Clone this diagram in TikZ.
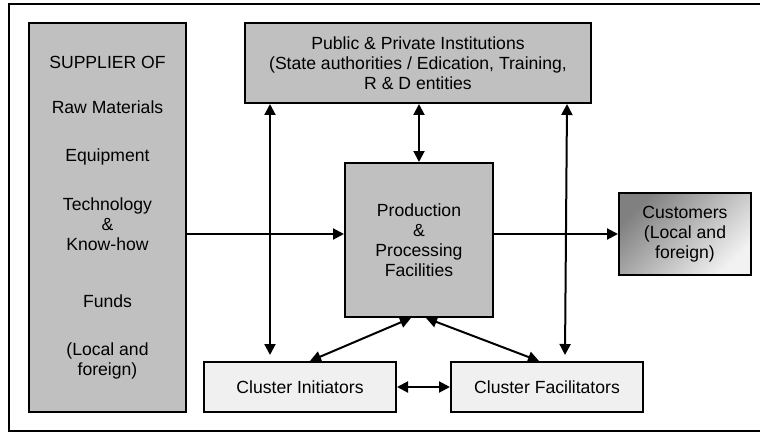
\documentclass[tikz,border=0pt]{standalone}
\usepackage{fontspec}
\setmainfont{Liberation Sans}
\usetikzlibrary{arrows.meta}
\definecolor{boxgray}{HTML}{C0C0C0}
\definecolor{boxlight}{HTML}{F0F0F0}

\begin{document}
\begin{tikzpicture}[x=0.5pt,y=-0.5pt]
\tikzstyle{main}=[rectangle, draw=black, line width=1pt, fill=boxgray, align=center, inner sep=0pt, font=\fontsize{8.8}{10}\selectfont]
\tikzstyle{light}=[main, fill=boxlight]
\tikzstyle{connect}=[{Triangle[length=5.5pt,width=5.5pt]}-{Triangle[length=5.5pt,width=5.5pt]}, line width=1pt]
\tikzstyle{onto}=[-{Triangle[length=5.5pt,width=5.5pt]}, line width=1pt]
  \clip (0,0) rectangle (760,433);
  \draw[line width=1pt] (9,4) rectangle (770,431);
  \node[main, minimum width=78.5pt, minimum height=194.5pt] (sup) at (107.5,217.5)
    {SUPPLIER OF\\[12.5pt] Raw Materials\\[14pt] Equipment\\[14.5pt] Technology\\ \&\\ Know-how\\[18.5pt] Funds\\[14pt] (Local and\\ foreign)};
  \node[main, minimum width=173pt, minimum height=40pt] (pub) at (418,63)
    {Public \& Private Institutions\\ (State authorities / Edication, Training,\\ R \& D entities};
  \node[main, minimum width=74pt, minimum height=77pt] (prod) at (419,240)
    {Production\\ \&\\ Processing\\ Facilities};
  \node[main, top color=black!50, bottom color=white!95!black, shading angle=45, minimum width=66pt, minimum height=41pt] (cust) at (685,234)
    {Customers\\ (Local and\\ foreign)};
  \node[light, minimum width=96pt, minimum height=25pt] (init) at (300,387) {Cluster Initiators};
  \node[light, minimum width=96pt, minimum height=25pt] (facil) at (547,387) {Cluster Facilitators};
  \path
        (sup.east |- cust.west) edge [onto] (prod.west |- cust.west)
        (prod.east |- cust.west) edge [onto] (cust.west)
        (pub.south -| prod.north) edge [connect] (prod.north)
        ([xshift=13pt]pub.south west) edge [connect] ([xshift=33.5pt,yshift=3pt]init.north west)
        ([xshift=-12.5pt]pub.south east) edge [connect] ([xshift=57.5pt,yshift=3pt]facil.north west)
        ([xshift=33.5pt]prod.south west) edge [connect] ([xshift=53.5pt]init.north west)
        ([xshift=41pt]prod.south west) edge [connect] ([xshift=44.5pt]facil.north west)
        (init.east) edge [connect] (facil.west);
\end{tikzpicture}
\end{document}
